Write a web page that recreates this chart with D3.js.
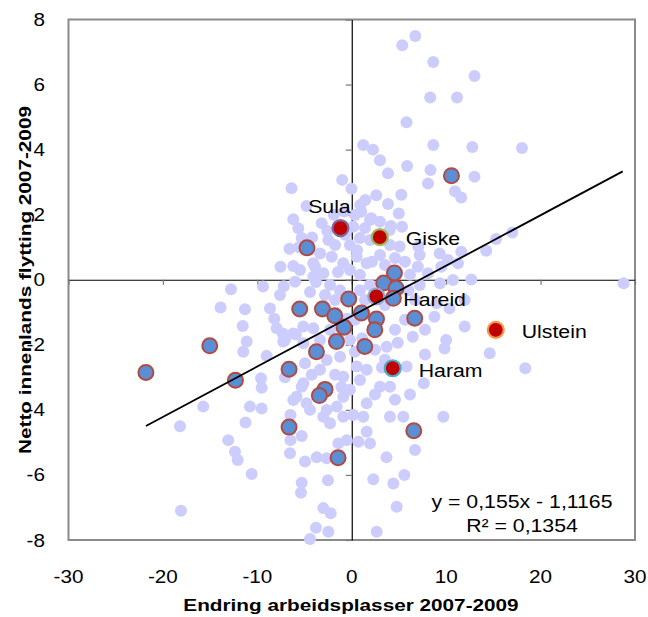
<!DOCTYPE html>
<html>
<head>
<meta charset="utf-8">
<script src="https://cdn.jsdelivr.net/npm/d3@7"></script>
<style>
  body { margin: 0; background: #fff; }
  text { font-family: "Liberation Sans", Arial, sans-serif; fill: #000; }
</style>
</head>
<body>
<script>
// data
var xTicks = [-30, -20, -10, 0, 10, 20, 30];
var yTicks = [-8, -6, -4, -2, 0, 2, 4, 6, 8];

// all municipalities
var lightPts = [
  [6.73,7.49],[5.35,7.21],[8.63,6.69],[13.0,6.26],[8.31,5.60],[11.15,5.60],[5.80,4.84],
  [1.22,4.14],[2.25,4.00],[8.64,4.14],[12.77,4.08],[18.03,4.05],[2.99,3.67],[5.86,3.50],
  [8.34,3.37],[3.84,3.27],[13.0,3.17],[8.08,2.96],[-1.01,3.07],[-0.03,2.80],[10.93,2.72],
  [11.59,2.53],[5.25,2.61],[1.43,2.45],[3.84,2.33],[4.98,2.04],[1.01,2.09],[2.07,1.89],
  [17.0,1.45],[15.29,1.25],[14.24,0.89],[11.6,0.86],[12.66,0.01],[28.8,-0.11],[10.72,-0.01],
  [9.31,0.81],[7.19,0.76],[11.25,0.51],[10.19,0.61],[9.48,0.40],[7.0,0.40],[8.07,0.20],
  [5.07,1.02],[4.01,1.53],[4.15,1.65],[5.32,1.63],[7.05,1.02],
  [-6.38,2.81],[-4.79,2.27],[-6.19,1.86],[-5.66,1.58],[-3.18,1.74],[0.34,1.99],[1.93,1.84],
  [0.16,1.63],[-2.48,1.22],[-1.77,1.07],[-0.19,1.07],[-7.55,0.40],[-6.19,0.42],[-5.48,0.30],
  [-3.89,0.40],[-3.01,0.20],[-2.12,0.71],[-0.90,0.51],[0.52,0.71],[1.58,0.51],[-5.30,1.28],
  [-6.01,-0.06],[-4.07,0.51],[-3.36,0.81],[-3.79,-0.07],[-0.71,1.38],[0.87,1.28],[1.93,1.22],
  [0.56,0.91],[1.40,1.59],[2.99,1.78],[4.05,1.07],[2.99,0.76],[2.14,0.55],[3.52,0.45],
  [4.58,0.67],[5.64,0.55],[6.17,0.15],[-1.46,0.24],[-0.19,0.30],[0.87,0.15],[-2.30,-0.16],
  [-1.25,-0.32],[0.87,-0.32],[1.93,-0.16],[-2.83,-0.47],[-4.42,-0.38],[-1.77,-0.62],
  [6.0,-0.32],[7.2,-0.16],
  [-9.40,-0.21],[-7.60,-0.47],[-8.66,-0.88],[-7.95,-1.49],[-7.07,-1.85],[-6.19,-1.65],
  [-5.13,-1.44],[-4.07,-1.49],[-5.13,-1.95],[-2.65,-2.47],[-1.24,-2.37],[0.52,-2.67],
  [1.58,-2.77],[0.87,-3.08],[-0.90,-2.98],[-5.13,-3.18],[-5.84,-3.60],[-4.78,-3.80],
  [-0.90,-3.60],[1.58,-3.80],[-1.59,-3.90],[-2.65,-4.00],[-4.07,0.09],
  [-13.89,-0.85],[-11.31,-0.91],[-11.55,-1.42],[-7.31,-1.65],[-5.91,-1.68],[-11.13,-1.90],
  [-11.49,-2.21],[-9.02,-2.34],[-7.26,-1.90],[-7.07,-3.00],[-4.95,-2.57],[-5.30,-3.29],
  [-9.54,-3.32],[-6.19,-3.70],[-15.73,-3.90],[-10.78,-3.90],[-9.54,-3.96],[-4.42,-4.00],
  [-18.19,-4.50],[-11.25,-4.39],[-5.30,-4.80],[-13.08,-4.93],[-12.37,-5.29],[-12.08,-5.54],
  [-6.54,-5.33],[-4.95,-5.59],[-3.71,-5.46],[-2.65,-5.49],[-10.60,-5.97],[-5.30,-6.24],
  [-5.38,-6.55],[-3.01,-7.02],[-2.52,-6.16],[-18.09,-7.10],[-3.79,-7.62],[-2.48,-7.75],
  [-4.42,-7.97],[-6.49,-4.16],[-6.49,-4.93],[-9.61,-3.03],[-12.79,-0.29],
  [-3.01,-4.21],[-2.30,-4.41],[-0.90,-4.21],[0.16,-4.16],[1.22,-4.21],[4.05,-4.21],
  [5.46,-4.21],[9.70,-4.21],[1.58,-4.67],[1.93,-5.03],[0.70,-4.98],[-0.53,-4.93],
  [-1.42,-5.03],[6.70,-5.23],[3.68,-5.46],[2.28,-6.13],[4.40,-6.26],[5.57,-6.00],
  [4.76,-6.98],[-2.23,-7.18],[2.64,-7.75],
  [11.96,-1.44],[14.61,-2.26],[18.38,-2.72],[10.0,-1.85],[9.83,-2.11],[7.63,-3.18],
  [6.46,-1.75],[4.87,-1.94],[8.76,-1.14],[10.35,-0.88],[11.96,-0.62],[9.35,-0.11],
  [8.98,-0.72],[3.70,-2.06],[5.81,-2.67],[4.05,-3.29],[2.99,-3.29],[3.52,-2.46],
  [2.46,-2.15],[4.58,-1.54],[5.64,-1.23],[-0.19,-1.85],[0.34,-2.21],[-1.77,-2.92],
  [2.46,-3.53],[4.58,-3.69],[-0.19,-3.38],[-3.36,-2.77],[-2.30,-1.54],[0.34,-1.23],
  [1.40,-0.62],[3.52,-0.78],[6.70,-0.62],[7.76,-1.54],[7.76,-2.30],[6.17,-3.53],
  [-3.36,-1.85],[-4.24,-2.92],
  [-5.60,1.00],[-6.60,0.95],[-4.20,1.30],[-2.60,1.50],[-1.90,2.00],[-0.80,2.10],
  [0.90,2.30],[2.60,2.60],[-7.20,-0.20],[-8.20,-1.20],[-3.00,-0.80],[-0.50,-1.20],
  [3.20,-2.70],[1.10,-1.80],[-1.10,-3.30]
];

// regional municipalities
var bluePts = [
  [10.56,3.2],[-4.74,0.98],[4.52,0.21],[3.39,-0.10],[4.69,-0.26],[4.40,-0.57],[-0.32,-0.59],
  [-5.51,-0.90],[-3.10,-0.90],[-1.80,-1.11],[-0.82,-1.46],[1.03,-1.02],[2.62,-1.21],
  [2.44,-1.54],[-1.62,-1.90],[1.38,-2.05],[-3.74,-2.21],[-6.64,-2.75],[-2.83,-3.37],
  [-3.43,-3.56],[6.67,-1.18],[-15.04,-2.03],[-21.8,-2.85],[-12.32,-3.09],[-6.64,-4.53],
  [6.57,-4.64],[-1.45,-5.47]
];

// named municipalities
var names = ["Sula", "Giske", "Hareid", "Ulstein", "Haram"];
var namedX = [-1.2, 2.97, 2.6, 15.25, 4.34];
var namedY = [1.59, 1.31, -0.51, -1.54, -2.72];

// trend line
var slope = 0.155, intercept = -1.1165;
var trendX = [-21.8, 28.7];
var eqText = ["y = 0,155x - 1,1165", "R\u00b2 = 0,1354"];

// styling
var ringColor = {Sula:"#7b6aa3", Giske:"#9bbb59", Hareid:"#93a9cf", Ulstein:"#f79646", Haram:"#4bacc6"};
var labelOff = {Sula:[-11,-15,"middle"], Giske:[26,8,"start"], Hareid:[27,9.5,"start"], Ulstein:[26,8,"start"], Haram:[26,9,"start"]};
var SX = 1.15; // horizontal stretch of the text in the picture
var SXT = 1.22; // same for the bold titles

var W = 648, H = 617;
var pLeft = 68.5, pRight = 635, pTop = 19.5, pBottom = 540;

var svg = d3.select('body').append('svg')
	.attr('width', W)
	.attr('height', H);

var x = d3.scaleLinear().domain([-30, 30]).range([pLeft, pRight]);
var y = d3.scaleLinear().domain([-8, 8]).range([pBottom, pTop]);

//helper for stretched text
function label(txt, px, py, anchor, size, weight, rot, sx){
	var t = svg.append('text')
		.attr('transform', 'translate(' + px + ',' + py + ')' + (rot ? ' rotate(' + rot + ')' : '') + ' scale(' + (sx || SX) + ',1)')
		.attr('text-anchor', anchor)
		.style('font-size', size + 'px')
		.style('font-weight', weight || 'normal')
		.text(txt);
	return t;
}

//frame
svg.append('rect')
	.attr('x', pLeft).attr('y', pTop)
	.attr('width', pRight - pLeft).attr('height', pBottom - pTop)
	.attr('fill', 'none')
	.attr('stroke', '#8a8a8a')
	.attr('stroke-width', 2);

//axes through origin
var xAxis = svg.append('g')
	.attr('transform', 'translate(0,' + y(0) + ')')
	.call(d3.axisBottom(x).tickValues(xTicks).tickSize(5).tickSizeOuter(0).tickFormat(''));
var yAxis = svg.append('g')
	.attr('transform', 'translate(' + x(0) + ',0)')
	.call(d3.axisLeft(y).tickValues(yTicks).tickSize(6).tickSizeOuter(0).tickFormat(''));
[xAxis, yAxis].forEach(function(a){
	a.select('.domain').attr('stroke', '#000').attr('stroke-width', 1.2);
	a.selectAll('.tick line').attr('stroke', '#777').attr('stroke-width', 1.2);
});

//tick labels
xTicks.forEach(function(v){ label(v, x(v), 583, 'middle', 18); });
yTicks.forEach(function(v){ label(v, 45, y(v) + 6.5, 'end', 18); });

//axis titles
label('Endring arbeidsplasser 2007-2009', 351, 611, 'middle', 17, 'bold', 0, SXT);
label('Netto innenlands flytting 2007-2009', 31, 280, 'middle', 17, 'bold', -90, SXT);

//points
svg.append('g').selectAll('circle').data(lightPts)
	.enter().append('circle')
	.attr('cx', function(d){return x(d[0])})
	.attr('cy', function(d){return y(d[1])})
	.attr('r', 6)
	.attr('fill', '#cccdfd');

svg.append('g').selectAll('circle').data(bluePts)
	.enter().append('circle')
	.attr('cx', function(d){return x(d[0])})
	.attr('cy', function(d){return y(d[1])})
	.attr('r', 7.5)
	.attr('fill', '#5a8fd6')
	.attr('stroke', '#b24a44')
	.attr('stroke-width', 2);

var named = names.map(function(n, i){ return {name:n, x:namedX[i], y:namedY[i]}; });
svg.append('g').selectAll('circle').data(named)
	.enter().append('circle')
	.attr('cx', function(d){return x(d.x)})
	.attr('cy', function(d){return y(d.y)})
	.attr('r', 8)
	.attr('fill', '#c00000')
	.attr('stroke', function(d){return ringColor[d.name]})
	.attr('stroke-width', 2.2);

//trend line
svg.append('line')
	.attr('x1', x(trendX[0])).attr('y1', y(slope*trendX[0] + intercept))
	.attr('x2', x(trendX[1])).attr('y2', y(slope*trendX[1] + intercept))
	.attr('stroke', '#000')
	.attr('stroke-width', 1.8);

//labels
named.forEach(function(d){
	var o = labelOff[d.name];
	label(d.name, x(d.x) + o[0], y(d.y) + o[1], o[2], 18.5);
});

label(eqText[0], 522, 508, 'middle', 18.5);
label(eqText[1], 522, 532, 'middle', 18.5);
</script>
</body>
</html>
